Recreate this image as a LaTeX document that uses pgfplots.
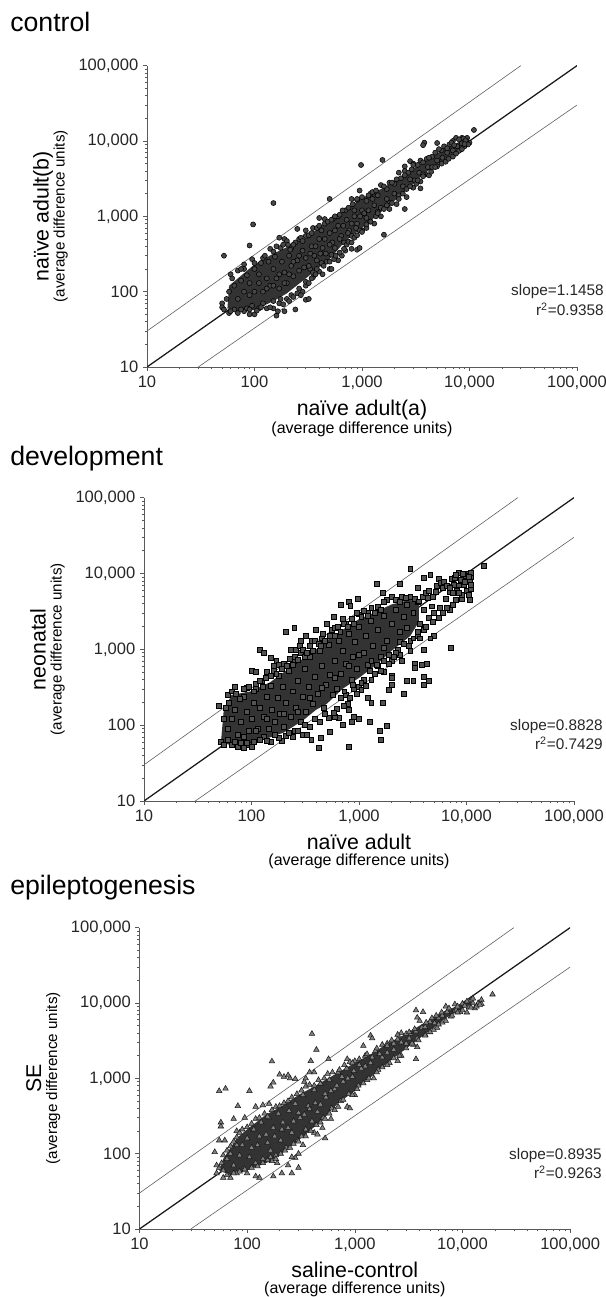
\documentclass[border=0pt]{standalone}
\usepackage{fontspec}
\setmainfont{Liberation Sans}
\usepackage{pgfplots}
\pgfplotsset{compat=1.18}
\definecolor{core}{gray}{0.2}
\definecolor{axc}{gray}{0.35}
\newcommand{\mainlab}[1]{{\fontsize{16pt}{19pt}\selectfont #1}}
\newcommand{\sublabx}{{\fontsize{12pt}{14pt}\selectfont (average difference units)}}
\newcommand{\sublaby}{{\fontsize{11.4pt}{14pt}\selectfont (average difference units)}}
\pgfplotsset{
    scale only axis, anchor=south west,
    xmin=10, xmax=100000, ymin=10, ymax=100000,
    axis x line*=bottom, axis y line*=left,
    axis line style={axc,-,line width=0.6pt},
    tick style={axc,line width=0.45pt},
    tick align=outside,
    major tick length=3pt, minor tick length=1.7pt,
    log ticks with fixed point,
    /pgf/number format/1000 sep={,},
    /pgf/number format/assume math mode=true,
    ticklabel style={font=\fontsize{12.4pt}{14pt}\selectfont, text=black!85},
    xlabel style={align=center, at={(axis description cs:0.5,-0.095)}, anchor=north},
    ylabel style={align=center, at={(axis description cs:-0.173,0.5)}, anchor=south},
}
\pgfplotsset{
  unityline/.style={black!90, line width=0.95pt},
  bandline/.style={gray!75!black, line width=0.45pt},
  dotc/.style={only marks, mark=*, mark size=1.9pt, mark options={fill=black!72, draw=black, line width=0.4pt}},
  dotsq/.style={only marks, mark=square*, mark size=1.85pt, mark options={fill=black!68, draw=black, line width=0.4pt}},
  dott/.style={only marks, mark=triangle*, mark size=2.4pt, mark options={fill=black!50, draw=black!90, line width=0.4pt}},
}
\tikzset{ttl/.style={anchor=base west,inner sep=0pt,font=\fontsize{20pt}{22pt}\selectfont},
  stat/.style={anchor=base east,inner sep=0pt,font=\fontsize{11.5pt}{13pt}\selectfont,text=black!85}}
\begin{document}
\begin{tikzpicture}
\path[use as bounding box] (0pt,0pt) rectangle (454.5pt,972.75pt);

\node[ttl] at (7.5pt,948.75pt) {control};
\node[ttl] at (7.5pt,623.25pt) {development};
\node[ttl] at (7.5pt,301.5pt) {epileptogenesis};

\node[stat] at (453pt,750.75pt) {slope=1.1458};
\node[stat] at (453pt,735.75pt) {r\textsuperscript{2}=0.9358};
\node[stat] at (452.25pt,424.5pt) {slope=0.8828};
\node[stat] at (452.25pt,410.25pt) {r\textsuperscript{2}=0.7429};
\node[stat] at (451.5pt,102.75pt) {slope=0.8935};
\node[stat] at (451.5pt,88.5pt) {r\textsuperscript{2}=0.9263};

%% control
\begin{loglogaxis}[at={(110.25pt,697.5pt)}, width=322.5pt, height=226pt,
  xlabel={\mainlab{naïve adult(a)}\\ \sublabx}, ylabel={\mainlab{naïve adult(b)}\\ \sublaby}]
\addplot[bandline] coordinates {(10,30) (30000,100000)};
\addplot[bandline] coordinates {(30,10) (100000,30000)};
\addplot[unityline] coordinates {(10,10) (100000,100000)};
\addplot[fill=core,draw=none] coordinates {(56,60)(58,120)(70,150)(100,230)(150,320)(200,390)(300,520)(500,900)(700,1200)(1000,1750)(1500,2300)(2000,2900)(3000,4300)(4000,5700)(6000,8000)(9000,10500)(9500,9000)(6000,5800)(4000,4000)(3000,2700)(2000,1600)(1000,700)(700,470)(500,270)(300,150)(200,95)(150,75)(100,57)(70,55)} -- cycle;
\addplot[dotc] coordinates {(150,1500)(97,780)(90,410)(52,300)(980,4800)(1550,5600)(500,1700)(400,950)(450,920)(950,2200)(1200,2000)(1250,2100)(2500,4600)(2800,5400)(3800,9500)(3700,8800)(5000,9400)(11000,14000)(1600,570)(2500,1250)(3500,2350)(2500,4000)(2200,3800)(3000,5000)(1500,2600)(1800,2800)(800,1700)(900,1650)(300,650)(250,680)(170,520)(190,500)(200,470)(160,400)(140,370)(120,280)(95,270)(100,240)(80,230)(60,170)(62,150)(70,190)(80,200)(65,120)(75,140)(58,100)(55,80)(50,70)(50,62)(52,58)(58,52)(65,58)(70,52)(80,55)(90,50)(100,50)(85,60)(95,65)(110,60)(120,70)(150,60)(160,48)(165,55)(190,55)(240,58)(150,75)(170,70)(200,80)(220,90)(250,95)(300,78)(320,80)(280,100)(350,155)(300,120)(400,185)(430,170)(500,200)(520,200)(330,200)(350,180)(420,240)(520,310)(600,260)(650,300)(700,350)(800,370)(900,360)(950,380)(1000,650)(1100,700)(1300,800)(1500,1000)(1800,1250)(2100,1450)(2600,1800)(3000,2400)(3500,2900)(3900,3600)(4200,3500)(5000,4600)(6000,5300)(7000,6200)(8000,7400)(9000,8500)(10000,9500)(9500,11000)(8500,11000)(7500,11000)(7000,10000)(6500,9000)(5500,7500)(4500,6200)(4000,5800)(3500,5500)(3000,4800)(2700,3800)(2300,3200)(2000,2700)(1700,2300)(1400,1900)(1100,1600)(850,1200)(700,1200)(600,1000)(550,950)(450,800)(350,700)(300,550)(260,500)(240,450)(220,380)
(70,80)(80,100)(90,90)(100,100)(110,130)(120,100)(130,150)(140,120)(150,200)(160,150)(170,110)(180,250)(190,180)(200,130)(210,300)(220,220)(230,160)(250,260)(260,190)(280,350)(300,280)(320,220)(340,400)(360,300)(380,260)(400,500)(430,380)(460,320)(500,600)(530,450)(560,380)(600,750)(640,550)(680,450)(720,900)(760,650)(800,550)(850,1000)(900,800)(950,650)(1000,1200)(1100,950)(1200,850)(1300,1400)(1400,1150)(1500,1300)(1700,1700)(1800,1500)(2000,2000)(2200,1900)(2400,2500)(2600,2300)(2800,3100)(3100,3000)(3400,3800)(3700,3600)(4100,4500)(4500,4500)(5000,5500)(5600,6000)(6200,7000)(7000,7500)(7700,8500)(8500,9300)(9300,10000)(90,130)(110,170)(130,110)(150,120)(170,170)(190,130)(210,170)(230,250)(260,300)(290,210)(330,320)(370,400)(410,320)(450,500)(500,420)(560,650)(620,500)(670,750)(740,600)(800,800)(880,700)(960,1000)(1050,1100)(1150,1200)
(75,200)(85,165)(100,200)(115,240)(125,300)(135,250)(150,340)(155,290)(175,380)(185,420)(205,420)(215,360)(230,420)(270,520)(280,470)(320,560)(340,600)(380,700)(400,750)(420,650)(480,850)(520,900)(560,1000)(620,1050)(660,1200)(750,1300)(820,1450)(900,1700)(1000,1800)(1150,1900)(1250,1700)(1350,2200)(1600,2500)(1900,2800)(2100,3100)(2500,3500)(2900,4200)(3300,4800)(3700,5200)(4200,6000)(4800,7000)(5200,7800)(5800,8500)(6200,8000)(6800,9500)(7200,8800)(8000,10500)(8800,10800)(9200,10200)(9700,9000)(9000,9100)
(60,55)(75,58)(90,58)(105,56)(115,62)(130,60)(140,62)(175,80)(185,68)(210,75)(230,85)(260,110)(270,90)(300,135)(320,130)(340,150)(370,170)(380,200)(440,220)(470,250)(500,250)(550,270)(570,300)(620,330)(680,370)(720,420)(750,460)(800,450)(850,520)(900,560)(1000,620)(1100,780)(1200,850)(1350,1000)(1400,1100)(1600,1250)(1700,1400)(1900,1500)(2200,1700)(2400,2000)(2800,2500)(3200,2700)(3300,3000)(3700,3400)(4400,3900)(4800,4500)(5500,5000)(6400,5800)(7500,6800)(8500,7800)};
\end{loglogaxis}

%% development
\begin{loglogaxis}[at={(108pt,372pt)}, width=322.5pt, height=227.5pt,
  xlabel={\mainlab{naïve adult}\\ \sublabx}, ylabel={\mainlab{neonatal}\\ \sublaby}]
\addplot[bandline] coordinates {(10,30) (30000,100000)};
\addplot[bandline] coordinates {(30,10) (100000,30000)};
\addplot[unityline] coordinates {(10,10) (100000,100000)};
\addplot[fill=core,draw=none] coordinates {(52,60)(55,150)(65,250)(100,280)(150,370)(200,500)(300,750)(400,1000)(500,1300)(700,1800)(1000,2500)(1500,3200)(2000,3900)(3000,4500)(3600,4000)(3600,2300)(3000,1500)(2000,950)(1500,650)(1000,420)(700,300)(500,190)(400,160)(300,115)(200,80)(120,62)(70,52)} -- cycle;
\addplot[dotsq] coordinates {(50,180)(60,250)(70,320)(90,310)(100,520)(110,500)(120,1000)(130,900)(150,780)(170,700)(210,1700)(250,1900)(230,1000)(260,1000)(290,1300)(280,1100)(320,1500)(360,1300)(500,2200)(580,2700)(680,3900)(800,4200)(980,4700)(830,3800)(1450,7300)(1650,5500)(2400,7300)(3000,11500)(3500,6500)(4000,8700)(4600,9500)(5500,8600)(7300,8500)(8500,10200)(10500,10000)(11000,9000)(14500,12500)(2000,5000)(2500,5000)(1800,4500)(1200,3000)(1000,2900)(700,2500)(750,2200)(600,1500)(450,1400)(400,1800)
(52,60)(55,55)(60,65)(65,55)(75,52)(85,50)(95,55)(105,60)(130,70)(150,60)(190,62)(210,72)(250,85)(300,75)(330,75)(360,65)(420,50)(440,68)(540,82)(800,52)(700,100)(650,125)(600,130)(850,110)(900,130)(1000,120)(1250,110)(1550,85)(1600,65)(1800,98)(1300,200)(1200,230)(1650,200)(1900,290)(2000,340)(2600,260)(2800,390)(3200,380)(4000,340)(4000,440)(4500,380)(2000,450)(2000,420)(1000,320)(1100,400)(800,160)(780,190)(750,250)(900,300)(7200,1050)(4300,640)(3800,620)(3300,640)(3300,570)(2500,700)(2000,700)(1500,600)(1700,500)(5000,1500)(4600,1400)(4000,1800)(3500,1500)(3000,950)(4000,1000)(6000,3000)(5000,3000)(7000,3300)(9000,4600)(10800,4500)(10000,6000)(11000,6200)(9000,5200)(8500,7000)
(60,90)(65,120)(70,160)(75,75)(80,110)(85,240)(90,150)(95,85)(100,120)(105,200)(110,300)(115,90)(120,170)(125,380)(130,130)(140,240)(145,90)(150,330)(155,160)(160,600)(165,110)(175,230)(180,450)(185,140)(195,320)(200,95)(210,200)(220,520)(230,130)(240,280)(250,700)(260,170)(270,380)(285,110)(300,240)(310,560)(320,150)(340,320)(350,800)(370,190)(390,430)(410,260)(430,950)(450,600)(470,170)(490,340)(520,1150)(540,460)(570,250)(600,700)(620,300)(650,1300)(680,480)(700,950)(730,280)(760,640)(800,1600)(850,400)(880,800)(920,1250)(960,550)(1000,2000)(1050,360)(1100,900)(1150,1500)(1200,620)(1280,2400)(1350,1100)(1400,480)(1500,1800)(1600,800)(1700,2800)(1800,1300)(1900,650)(2000,2200)(2200,3300)(2300,1000)(2400,1700)(2600,2700)(2800,3900)(3000,1300)(3200,3000)(3500,4200)(3700,2200)(4000,3300)(4400,4800)(4800,3700)(5200,5800)(5600,3500)(6000,6500)(6400,4600)(7000,5800)(7600,7200)(8200,6000)(8800,8200)(9400,7000)(10000,8800)(10800,7800)(11000,10200)(9800,9400)(2800,1900)(2400,1250)(1700,1050)(1300,700)(1000,850)(800,600)(600,420)(450,310)(350,230)(270,150)(200,140)(140,120)(110,85)(85,70)
(55,120)(58,170)(62,200)(65,280)(72,260)(78,220)(85,300)(95,320)(105,280)(110,350)(120,380)(128,320)(135,420)(140,500)(150,450)(160,520)(170,470)(180,620)(190,560)(200,650)(215,600)(225,750)(240,620)(255,800)(270,720)(285,900)(300,1000)(310,800)(330,900)(350,1100)(370,950)(390,1300)(420,1200)(440,1100)(460,1600)(480,1300)(530,1500)(560,1800)(600,1900)(640,2000)(670,1700)(720,2200)(780,2000)(850,2500)(900,2200)(950,3000)(1050,2700)(1100,3200)(1200,2800)(1300,3500)(1400,3000)(1500,3600)(1600,3300)(1700,4200)(2200,4500)(2400,4200)(2700,4800)(3000,5000)(3300,4700)(3600,4300)(3900,5000)(4200,5500)(4500,6000)(4900,5000)(5300,6800)(5700,7500)(6200,7800)(6600,6800)(7000,6500)(7400,5500)(7800,8800)(8000,9500)(8500,5500)(9200,9800)(9600,7800)(10400,5200)(10600,9000)(10900,7200)(3500,1700)(3700,1400)(4200,2000)(4500,2600)(4900,2300)(5500,2600)(6500,3500)(7500,3900)(8000,4500)(3200,1400)(2900,1100)(2600,1200)(2400,850)(2200,900)(2100,800)(1900,850)(1700,700)(1600,520)(1450,630)(1300,400)(1250,520)(1150,330)(1050,290)(950,260)(880,340)(820,230)(720,180)(680,230)(620,165)(580,145)(520,125)(480,140)(430,110)(390,120)(350,95)(310,100)(270,85)(240,70)(220,80)(180,68)(165,75)(140,62)(120,65)(100,52)(90,58)(80,58)(70,60)};
\end{loglogaxis}

%% epileptogenesis
\begin{loglogaxis}[at={(104.6pt,51pt)}, width=323pt, height=226pt,
  xlabel={\mainlab{saline-control}\\ \sublabx}, ylabel={\mainlab{SE}\\ \sublaby}]
\addplot[bandline] coordinates {(10,30) (30000,100000)};
\addplot[bandline] coordinates {(30,10) (100000,30000)};
\addplot[unityline] coordinates {(10,10) (100000,100000)};
\addplot[fill=core,draw=none] coordinates {(55,60)(60,85)(80,160)(100,210)(150,330)(200,410)(300,600)(400,750)(600,1050)(1000,1600)(1500,2200)(2000,2900)(3000,3900)(4000,5000)(7000,8000)(12000,10500)(12000,9800)(7000,6300)(4000,3400)(2000,1600)(1000,680)(700,470)(500,280)(300,150)(200,95)(150,75)(100,60)(70,52)} -- cycle;
\addplot[dott] coordinates {(55,680)(63,730)(105,680)(82,430)(57,260)(57,230)(55,150)(62,150)(50,105)(170,1680)(400,3900)(440,2400)(390,1700)(570,1800)(165,780)(175,880)(200,1120)(220,1050)(250,1000)(240,1100)(280,980)(340,900)(350,1000)(380,1200)(420,1200)(120,420)(140,440)(160,460)(95,300)(80,200)(75,290)(1400,3700)(1450,3400)(1200,2700)(850,1800)(3700,8000)(3800,6400)(4300,7600)(4000,5800)(2700,4000)(3000,3900)(2000,2900)(7000,9000)(8500,9600)(10000,9800)(12000,11000)(14000,10000)(19000,13000)(15000,11000)(13000,8500)(11000,7500)(8500,8000)(5800,4700)(3800,2600)(3700,1800)(2500,1700)(1500,1000)(1000,600)(850,420)(900,400)(530,160)(500,220)(420,190)(330,130)(300,100)(280,88)(300,65)(260,55)(240,70)(210,55)(175,50)(130,48)(120,50)(100,55)(60,48)(70,48)(80,55)(55,65)(52,70)(52,55)(190,75)(170,80)(260,90)(450,180)(600,290)
(60,60)(65,85)(75,70)(85,95)(90,130)(95,60)(100,160)(105,90)(115,210)(120,75)(125,130)(135,260)(140,85)(150,180)(160,300)(165,110)(175,220)(185,95)(195,340)(205,150)(215,260)(230,120)(245,370)(260,190)(280,460)(295,150)(310,300)(330,600)(350,210)(370,430)(400,270)(420,700)(450,360)(480,850)(510,300)(540,560)(580,950)(610,400)(650,720)(700,1200)(740,500)(780,900)(840,1350)(880,620)(950,1050)(1000,1700)(1080,800)(1150,1350)(1250,2000)(1300,950)(1400,1600)(1550,2300)(1650,1300)(1800,1900)(2000,2700)(2100,1600)(2300,2400)(2500,3300)(2700,2000)(3000,2900)(3300,3900)(3500,2800)(3800,3400)(4200,4700)(4500,3800)(5000,5600)(5400,4400)(6000,6300)(6500,5500)(7200,7600)(7800,6600)(8800,8200)(9500,7600)(10500,9200)(11500,8800)(12500,9900)(13500,9000)(15000,9700)(70,100)(80,130)(110,120)(130,170)(155,140)(180,170)(210,210)(240,220)(270,270)(300,350)(340,330)(380,390)(430,470)(480,450)(530,620)(600,680)(680,800)(760,1050)(860,1000)(980,1250)(1100,1500)(1250,1450)(1450,1900)(1700,2100)(2000,2200)(2300,2900)(2700,3000)(3200,3400)(3700,4200)(4500,4800)(5500,5400)(6500,6800)
(58,75)(60,95)(65,110)(70,125)(75,145)(80,165)(85,190)(90,210)(100,225)(110,250)(120,290)(130,300)(145,340)(155,310)(170,380)(185,420)(200,430)(220,470)(240,500)(260,560)(290,620)(320,690)(350,780)(380,820)(420,800)(460,950)(520,1000)(560,1150)(620,1200)(720,1300)(800,1500)(900,1650)(950,1600)(1100,1800)(1300,2100)(1600,2500)(1800,2800)(2200,3200)(2500,3800)(3200,4100)(3600,4500)(4600,5500)(5200,6300)(5700,6800)(6400,7500)(7500,8500)(9000,9000)(11000,10500)(12500,11500)
(65,52)(75,55)(85,58)(95,62)(110,65)(125,68)(140,75)(155,82)(165,90)(185,85)(205,100)(225,110)(250,120)(270,135)(300,145)(320,170)(350,170)(390,200)(440,240)(480,260)(530,290)(580,340)(650,380)(700,420)(780,520)(950,600)(1050,720)(1200,860)(1350,1000)(1600,1200)(1800,1400)(2000,1500)(2300,1850)(2600,2000)(3000,2500)(3400,2900)(3900,3200)(4500,3700)(5000,4100)(6000,5200)(7000,5800)(8000,6800)(9000,7500)(10000,8000)(12000,8700)(14500,9500)};
\end{loglogaxis}
\end{tikzpicture}
\end{document}
